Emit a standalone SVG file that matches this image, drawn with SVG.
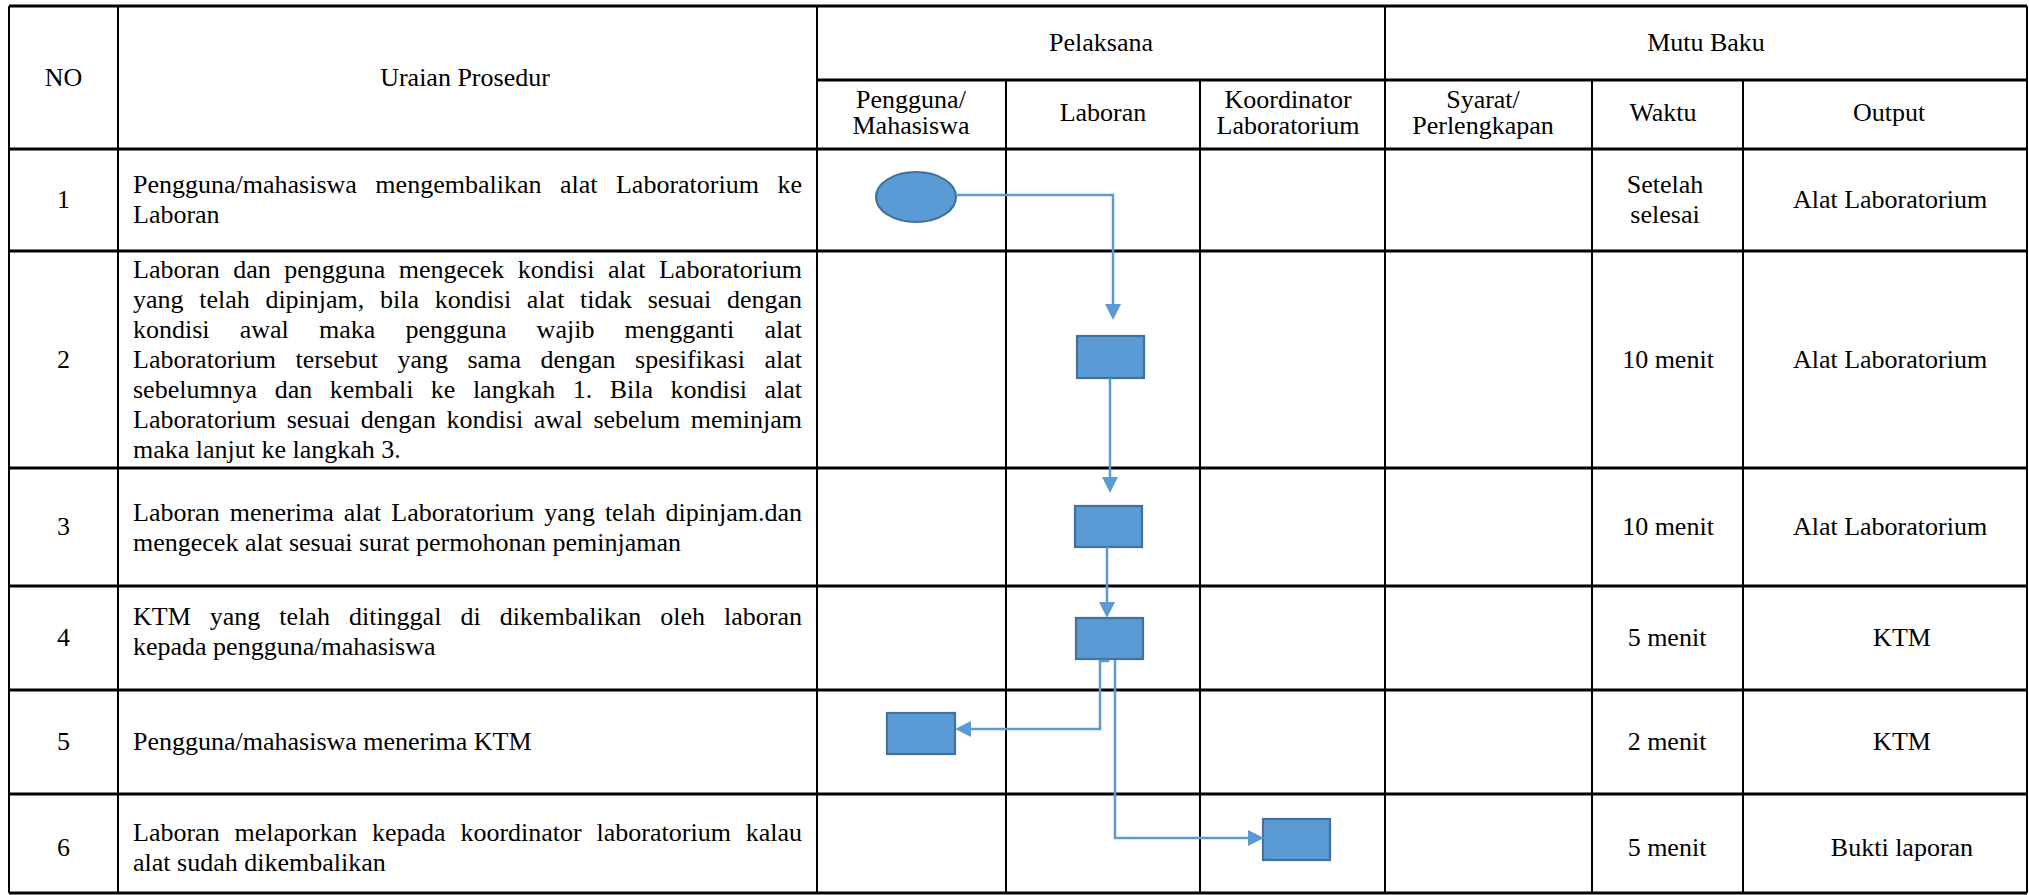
<svg xmlns="http://www.w3.org/2000/svg" width="2029" height="895" viewBox="0 0 2029 895">
<style>
.t{font-family:"Liberation Serif","Times New Roman",serif;font-size:26px;fill:#000}
.c{text-anchor:middle}
.h{stroke:#000;stroke-width:2.8;fill:none}
.v{stroke:#000;stroke-width:2;fill:none}
.shape{fill:#5B9BD5;stroke:#41719C;stroke-width:2.2}
.conn{fill:none;stroke:#5B9BD5;stroke-width:2.5}
</style>
<defs>
<marker id="arr" markerUnits="userSpaceOnUse" markerWidth="16" markerHeight="16" refX="0" refY="7.5" orient="auto" viewBox="0 0 15 15">
<path d="M0,0 L15,7.5 L0,15 z" fill="#5B9BD5"/>
</marker>
</defs>
<rect width="2029" height="895" fill="#fff"/>
<g id="grid">
<path class="h" d="M9,6 H2027 M817,80 H2027 M9,149 H2027 M9,251 H2027 M9,468 H2027 M9,586 H2027 M9,690 H2027 M9,794 H2027 M9,893 H2027"/>
<path class="v" d="M9,6 V893 M118,6 V893 M817,6 V893 M1006,80 V893 M1200,80 V893 M1385,6 V893 M1592,80 V893 M1743,80 V893 M2027,6 V893"/>
</g>
<g id="header">
<text class="t c" x="63.5" y="86">NO</text>
<text class="t c" x="465" y="86">Uraian Prosedur</text>
<text class="t c" x="1101" y="51">Pelaksana</text>
<text class="t c" x="1706" y="51">Mutu Baku</text>
<text class="t c" x="911" y="108">Pengguna/</text>
<text class="t c" x="911" y="134">Mahasiswa</text>
<text class="t c" x="1103" y="121">Laboran</text>
<text class="t c" x="1288" y="108">Koordinator</text>
<text class="t c" x="1288" y="134">Laboratorium</text>
<text class="t c" x="1483" y="108">Syarat/</text>
<text class="t c" x="1483" y="134">Perlengkapan</text>
<text class="t c" x="1663" y="121">Waktu</text>
<text class="t c" x="1889" y="121">Output</text>
</g>
<g id="row1">
<text class="t c" x="63.5" y="208">1</text>
<text class="t" x="133" y="193" word-spacing="12" textLength="669" lengthAdjust="spacing">Pengguna/mahasiswa mengembalikan alat Laboratorium ke</text>
<text class="t" x="133" y="223">Laboran</text>
<text class="t c" x="1665" y="193">Setelah</text>
<text class="t c" x="1665" y="223">selesai</text>
<text class="t c" x="1890" y="208">Alat Laboratorium</text>
</g>
<g id="row2">
<text class="t c" x="63.5" y="368">2</text>
<text class="t" x="133" y="278" word-spacing="7" textLength="669" lengthAdjust="spacing">Laboran dan pengguna mengecek kondisi alat Laboratorium</text>
<text class="t" x="133" y="308" word-spacing="9.15" textLength="669" lengthAdjust="spacing">yang telah dipinjam, bila kondisi alat tidak sesuai dengan</text>
<text class="t" x="133" y="338" word-spacing="23.6" textLength="669" lengthAdjust="spacing">kondisi awal maka pengguna wajib mengganti alat</text>
<text class="t" x="133" y="368" word-spacing="13" textLength="669" lengthAdjust="spacing">Laboratorium tersebut yang sama dengan spesifikasi alat</text>
<text class="t" x="133" y="398" word-spacing="11" textLength="669" lengthAdjust="spacing">sebelumnya dan kembali ke langkah 1. Bila kondisi alat</text>
<text class="t" x="133" y="428" word-spacing="4.1" textLength="669" lengthAdjust="spacing">Laboratorium sesuai dengan kondisi awal sebelum meminjam</text>
<text class="t" x="133" y="458">maka lanjut ke langkah 3.</text>
<text class="t c" x="1668" y="368">10 menit</text>
<text class="t c" x="1890" y="368">Alat Laboratorium</text>
</g>
<g id="row3">
<text class="t c" x="63.5" y="535">3</text>
<text class="t" x="133" y="521" word-spacing="3.5" textLength="669" lengthAdjust="spacing">Laboran menerima alat Laboratorium yang telah dipinjam.dan</text>
<text class="t" x="133" y="551">mengecek alat sesuai surat permohonan peminjaman</text>
<text class="t c" x="1668" y="535">10 menit</text>
<text class="t c" x="1890" y="535">Alat Laboratorium</text>
</g>
<g id="row4">
<text class="t c" x="63.5" y="646">4</text>
<text class="t" x="133" y="625" word-spacing="12.5" textLength="669" lengthAdjust="spacing">KTM yang telah ditinggal di dikembalikan oleh laboran</text>
<text class="t" x="133" y="655">kepada pengguna/mahasiswa</text>
<text class="t c" x="1667" y="646">5 menit</text>
<text class="t c" x="1902" y="646">KTM</text>
</g>
<g id="row5">
<text class="t c" x="63.5" y="750">5</text>
<text class="t" x="133" y="750">Pengguna/mahasiswa menerima KTM</text>
<text class="t c" x="1667" y="750">2 menit</text>
<text class="t c" x="1902" y="750">KTM</text>
</g>
<g id="row6">
<text class="t c" x="63.5" y="856">6</text>
<text class="t" x="133" y="841" word-spacing="8.3" textLength="669" lengthAdjust="spacing">Laboran melaporkan kepada koordinator laboratorium kalau</text>
<text class="t" x="133" y="871">alat sudah dikembalikan</text>
<text class="t c" x="1667" y="856">5 menit</text>
<text class="t c" x="1902" y="856">Bukti laporan</text>
</g>
<g id="node-start"><ellipse class="shape" cx="916" cy="197" rx="40" ry="25"/></g>
<g id="node-2"><rect class="shape" x="1077" y="336" width="67" height="42"/></g>
<g id="node-3"><rect class="shape" x="1075" y="506" width="67" height="41"/></g>
<g id="node-4"><rect class="shape" x="1076" y="618" width="67" height="41"/></g>
<g id="node-5"><rect class="shape" x="887" y="713" width="68" height="41"/></g>
<g id="node-6"><rect class="shape" x="1263" y="819" width="67" height="41"/></g>
<g id="connectors">
<path class="conn" d="M956,195 H1113 V304" marker-end="url(#arr)"/>
<path class="conn" d="M1110,378 V477" marker-end="url(#arr)"/>
<path class="conn" d="M1107,547 V602" marker-end="url(#arr)"/>
<path class="conn" d="M1108,660 V661 H1100 V729 H971" marker-end="url(#arr)"/>
<path class="conn" d="M1115,660 V838 H1248" marker-end="url(#arr)"/>
</g>
</svg>
